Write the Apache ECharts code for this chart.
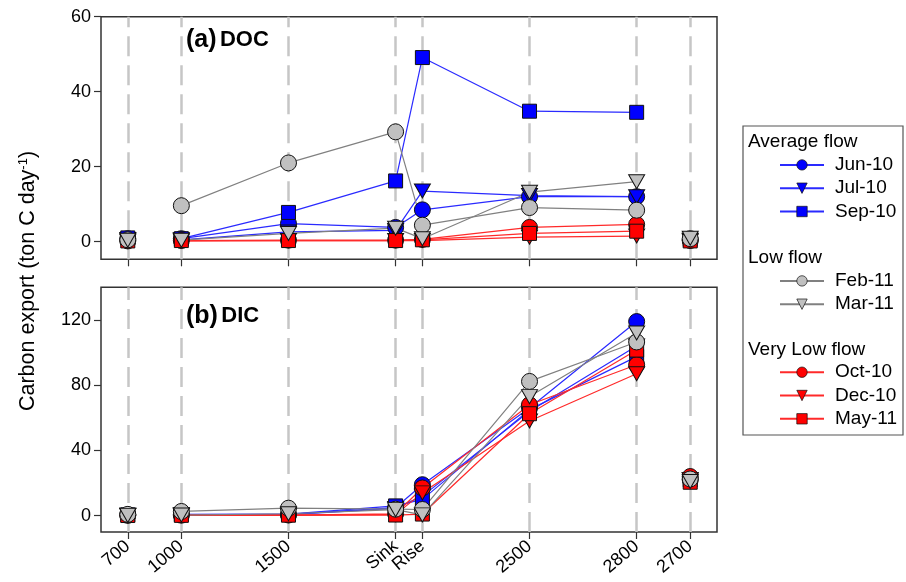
<!DOCTYPE html>
<html>
<head>
<meta charset="utf-8">
<script src="https://cdn.jsdelivr.net/npm/echarts@6/dist/echarts.min.js"></script>
<style>
html, body { margin: 0; padding: 0; background: #fff; }
#chart { width: 906px; height: 582px; }
</style>
</head>
<body>
<div id="chart"></div>
<script>
// Sampling stations along the river and their spacing on the x axis
const stationLabels = ['700', '1000', '1500', 'Sink', 'Rise', '2500', '2800', '2700'];
const stationPos = [0, 2, 6, 10, 11, 15, 19, 21];

// DOC export (ton C day-1), one value per station
const docJun10 = [0.8, 0.8, 4.8, 3.8, 8.5, 12.0, 12.0, 0.5];
const docJul10 = [0.6, 0.5, 2.6, 3.0, 13.5, 12.3, 12.0, 0.4];
const docSep10 = [1.0, 0.8, 7.8, 16.2, 49.1, 34.8, 34.5, 0.6];
const docFeb11 = [0.5, 9.6, 21.0, 29.3, 4.4, 9.1, 8.4, 0.8];
const docMar11 = [0.4, 0.4, 2.2, 3.6, 0.8, 13.2, 16.0, 0.9];
const docOct10 = [0.2, 0.3, 0.4, 0.4, 0.6, 3.8, 4.6, 0.3];
const docDec10 = [0.1, 0.2, 0.3, 0.3, 0.3, 1.2, 1.5, 0.2];
const docMay11 = [0.2, 0.3, 0.3, 0.3, 0.5, 2.2, 2.8, 0.2];

// DIC export (ton C day-1), one value per station
const dicJun10 = [0.5, 0.8, 0.8, 5.0, 19.0, 66.0, 119.0, 22.0];
const dicJul10 = [0.4, 0.6, 0.6, 4.5, 12.0, 64.0, 104.0, 22.0];
const dicSep10 = [0.5, 0.7, 0.9, 6.0, 10.0, 65.0, 97.5, 22.0];
const dicFeb11 = [0.8, 2.6, 4.6, 4.0, 3.8, 82.3, 106.5, 22.5];
const dicMar11 = [0.2, 0.4, 1.2, 3.7, 0.5, 73.0, 112.0, 21.0];
const dicOct10 = [0.2, 0.3, 0.4, 1.2, 17.0, 68.0, 92.5, 24.0];
const dicDec10 = [0.1, 0.2, 0.2, 0.8, 14.0, 58.0, 87.0, 22.0];
const dicMay11 = [0.1, 0.2, 0.3, 0.4, 1.0, 62.5, 101.5, 20.5];

// Tick labels
const docTicks = [0, 20, 40, 60];
const dicTicks = [0, 40, 80, 120];

// Legend groups
const averageFlow = ['Jun-10', 'Jul-10', 'Sep-10'];
const lowFlow = ['Feb-11', 'Mar-11'];
const veryLowFlow = ['Oct-10', 'Dec-10', 'May-11'];

const FONT = '"Liberation Sans", Arial, Helvetica, sans-serif';
const BLUE = { fill: '#0000ff', line: '#2a2aff' };
const GRAY = { fill: '#c0c0c0', line: '#808080' };
const RED = { fill: '#ff0000', line: '#ff2a2a' };
const TRI_DOWN = 'path://M0,0 L16,0 L8,14 Z';

// Draw order: later series sit on top
const monthDefs = [
  { name: 'Jun-10', doc: docJun10, dic: dicJun10, c: BLUE, symbol: 'circle', size: 16 },
  { name: 'Jul-10', doc: docJul10, dic: dicJul10, c: BLUE, symbol: TRI_DOWN, size: [16, 14] },
  { name: 'Sep-10', doc: docSep10, dic: dicSep10, c: BLUE, symbol: 'rect', size: 14 },
  { name: 'Oct-10', doc: docOct10, dic: dicOct10, c: RED, symbol: 'circle', size: 16 },
  { name: 'Dec-10', doc: docDec10, dic: dicDec10, c: RED, symbol: TRI_DOWN, size: [16, 14] },
  { name: 'May-11', doc: docMay11, dic: dicMay11, c: RED, symbol: 'rect', size: 14 },
  { name: 'Feb-11', doc: docFeb11, dic: dicFeb11, c: GRAY, symbol: 'circle', size: 16 },
  { name: 'Mar-11', doc: docMar11, dic: dicMar11, c: GRAY, symbol: TRI_DOWN, size: [16, 14] }
];

// 700 and 2700 are not joined to the main reach: break the line around them
function buildPoints(values) {
  const pts = [];
  values.forEach((v, i) => {
    if (i === values.length - 1) pts.push([stationPos[i], '-']);
    pts.push([stationPos[i], v]);
    if (i === 0) pts.push([stationPos[i], '-']);
  });
  return pts;
}

function monthSeries(def, key, axisIndex) {
  return {
    name: def.name,
    type: 'line',
    xAxisIndex: axisIndex,
    yAxisIndex: axisIndex,
    data: buildPoints(def[key]),
    connectNulls: false,
    symbol: def.symbol,
    symbolSize: def.size,
    lineStyle: { color: def.c.line, width: 1.2 },
    itemStyle: { color: def.c.fill, borderColor: '#111', borderWidth: 1 },
    emphasis: { disabled: true },
    z: 3
  };
}

function guideSeries(axisIndex) {
  return {
    type: 'line',
    xAxisIndex: axisIndex,
    yAxisIndex: axisIndex,
    data: [],
    silent: true,
    z: 1,
    markLine: {
      silent: true,
      z: 1,
      symbol: ['none', 'none'],
      label: { show: false },
      lineStyle: { color: '#c6c6c6', type: [20, 9], width: 2.5 },
      emphasis: { disabled: true },
      data: stationPos.map(p => ({ xAxis: p }))
    }
  };
}

function xAxis(gridIndex, showLabels) {
  return {
    type: 'value',
    gridIndex,
    min: -1,
    max: 22,
    position: 'bottom',
    splitLine: { show: false },
    axisLine: { show: false, onZero: false },
    axisTick: {
      show: true, inside: false, length: 7,
      customValues: stationPos,
      lineStyle: { color: '#333', width: 1.2 }
    },
    axisLabel: {
      show: showLabels,
      customValues: stationPos,
      rotate: 40,
      margin: 12,
      fontFamily: FONT,
      fontSize: 18,
      color: '#000',
      formatter: v => stationLabels[stationPos.indexOf(v)] ?? ''
    }
  };
}

function yAxis(gridIndex, min, max, ticks) {
  return {
    type: 'value',
    gridIndex,
    min,
    max,
    position: 'left',
    splitLine: { show: false },
    axisLine: { show: false, onZero: false },
    axisTick: {
      show: true, inside: false, length: 7,
      customValues: ticks,
      lineStyle: { color: '#333', width: 1.2 }
    },
    axisLabel: {
      customValues: ticks,
      margin: 10,
      fontFamily: FONT,
      fontSize: 18,
      color: '#000'
    }
  };
}

function legendGroup(names, top) {
  return {
    orient: 'vertical',
    left: 779,
    top,
    padding: 0,
    data: names,
    selectedMode: false,
    itemWidth: 44,
    itemHeight: 13,
    itemGap: 4.3,
    itemStyle: { borderWidth: 0.7 },
    textStyle: { fontFamily: FONT, fontSize: 19, color: '#000', padding: [0, 0, 0, 6] }
  };
}

const chart = echarts.init(document.getElementById('chart'), null, { renderer: 'canvas' });

const series = [guideSeries(0), guideSeries(1)];
monthDefs.forEach(d => series.push(monthSeries(d, 'doc', 0)));
monthDefs.forEach(d => series.push(monthSeries(d, 'dic', 1)));

const option = {
  backgroundColor: '#fff',
  animation: false,
  grid: [
    { left: 101, top: 16.7, width: 616, height: 242.6, show: true, borderColor: '#333', borderWidth: 1.5, backgroundColor: 'transparent', containLabel: false, outerBoundsMode: 'none' },
    { left: 101, top: 287.3, width: 616, height: 244.7, show: true, borderColor: '#333', borderWidth: 1.5, backgroundColor: 'transparent', containLabel: false, outerBoundsMode: 'none' }
  ],
  xAxis: [xAxis(0, false), xAxis(1, true)],
  yAxis: [yAxis(0, -4.7, 60, docTicks), yAxis(1, -10, 140, dicTicks)],
  legend: [
    legendGroup(averageFlow, 155.4),
    legendGroup(lowFlow, 271.4),
    legendGroup(veryLowFlow, 362.7)
  ],
  graphic: [
    {
      type: 'text', x: 28, y: 281, rotation: Math.PI / 2,
      style: {
        text: '{a|Carbon export (ton C day}{s|-1}{a|)}',
        align: 'center', verticalAlign: 'middle',
        rich: {
          a: { fontFamily: FONT, fontSize: 21.5, fill: '#000', color: '#000' },
          s: { fontFamily: FONT, fontSize: 13, fill: '#000', color: '#000', verticalAlign: 'top', padding: [0, 0, 10, 0] }
        }
      }
    },
    {
      type: 'text', x: 186, y: 40,
      style: {
        text: '{p|(a)} {t|DOC}', verticalAlign: 'middle',
        rich: {
          p: { fontFamily: FONT, fontWeight: 'bold', fontSize: 25, color: '#000' },
          t: { fontFamily: FONT, fontWeight: 'bold', fontSize: 22, color: '#000' }
        }
      }
    },
    {
      type: 'text', x: 186, y: 316,
      style: {
        text: '{p|(b)} {t|DIC}', verticalAlign: 'middle',
        rich: {
          p: { fontFamily: FONT, fontWeight: 'bold', fontSize: 25, color: '#000' },
          t: { fontFamily: FONT, fontWeight: 'bold', fontSize: 22, color: '#000' }
        }
      }
    },
    {
      type: 'rect', shape: { x: 743, y: 126, width: 160, height: 309 },
      style: { fill: 'none', stroke: '#555', lineWidth: 1.2 }
    },
    { type: 'text', x: 748, y: 142, style: { text: 'Average flow', font: '19px ' + FONT, fill: '#000', verticalAlign: 'middle' } },
    { type: 'text', x: 748, y: 258, style: { text: 'Low flow', font: '19px ' + FONT, fill: '#000', verticalAlign: 'middle' } },
    { type: 'text', x: 748, y: 350, style: { text: 'Very Low flow', font: '19px ' + FONT, fill: '#000', verticalAlign: 'middle' } }
  ],
  series
};

chart.setOption(option);
</script>
</body>
</html>
